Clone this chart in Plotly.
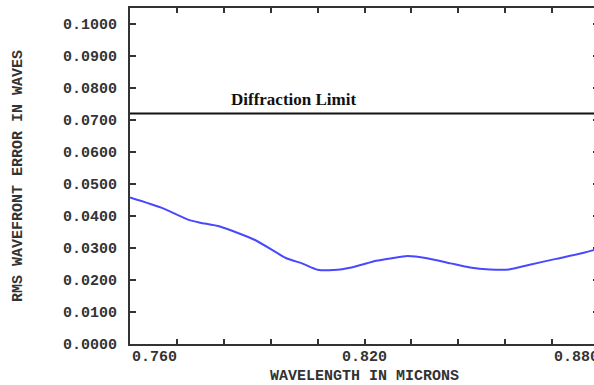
import plotly.graph_objects as go

# ---- data ----
wavelength = [0.760, 0.768, 0.775, 0.778, 0.783, 0.792, 0.800, 0.804, 0.808, 0.812,
              0.817, 0.823, 0.827, 0.831, 0.836, 0.842, 0.847, 0.852, 0.857, 0.862,
              0.869, 0.875, 0.880]
rms_error = [0.0458, 0.0426, 0.0388, 0.0379, 0.0367, 0.0325, 0.0268, 0.0252, 0.0232, 0.0231,
             0.0240, 0.0260, 0.0268, 0.0275, 0.0268, 0.0252, 0.0239, 0.0233, 0.0233, 0.0247,
             0.0266, 0.0282, 0.0298]
diffraction_limit = 0.072
x_tick_labels = ["0.760", "0.820", "0.880"]
x_tick_values = [0.760, 0.820, 0.880]
y_tick_values = [0.00, 0.01, 0.02, 0.03, 0.04, 0.05, 0.06, 0.07, 0.08, 0.09, 0.10]

AX = "#333333"
MONO = "Liberation Mono"

fig = go.Figure()
fig.add_trace(go.Scatter(
    x=wavelength, y=rms_error, mode="lines",
    line=dict(color="#4848ff", width=2, shape="spline", smoothing=0.6),
    showlegend=False, hoverinfo="skip",
))

fig.add_shape(type="line", xref="paper", yref="y", x0=0, x1=1,
              y0=diffraction_limit, y1=diffraction_limit,
              line=dict(color="#111111", width=2))
fig.add_annotation(x=0.7853, y=diffraction_limit, xref="x", yref="y",
                   xanchor="left", yanchor="bottom", yshift=3, showarrow=False,
                   text="<b>Diffraction Limit</b>",
                   font=dict(family="Liberation Serif", size=17, color="#111111"))

# x tick labels placed like the original (first left-aligned, last right-aligned)
anchors = ["left", "center", "right"]
shifts = [0, 0, 2]
for v, t, a, s in zip(x_tick_values, x_tick_labels, anchors, shifts):
    fig.add_annotation(x=v, y=0, xref="x", yref="paper", xanchor=a, yanchor="top",
                       xshift=s, yshift=-3, showarrow=False, text=t,
                       font=dict(family=MONO, size=15, color=AX, weight="bold"))

fig.update_xaxes(
    range=[0.760, 0.880], tick0=0.760, dtick=0.012,
    ticks="inside", ticklen=5, tickwidth=1.5, tickcolor=AX,
    showticklabels=False, showgrid=False, zeroline=False, automargin=False,
    showline=True, linecolor=AX, linewidth=2, mirror="ticks",
    title=dict(text="WAVELENGTH IN MICRONS", standoff=27,
               font=dict(family=MONO, size=15, color=AX, weight="bold")),
)
fig.update_yaxes(
    range=[0, 0.105], tickvals=y_tick_values, tickformat=".4f",
    ticks="inside", ticklen=6, tickwidth=1.5, tickcolor=AX,
    ticklabelstandoff=8, automargin=False,
    tickfont=dict(family=MONO, size=15, color=AX, weight="bold"),
    showgrid=False, zeroline=False,
    showline=True, linecolor=AX, linewidth=2, mirror="ticks",
    title=dict(text="RMS WAVEFRONT ERROR IN WAVES", standoff=37,
               font=dict(family=MONO, size=15, color=AX, weight="bold")),
)

# The original frame runs a few pixels past the right edge of the 594 px view.
fig.update_layout(
    width=599, height=385, autosize=False,
    margin=dict(l=130, r=0, t=8, b=41),
    plot_bgcolor="white", paper_bgcolor="white",
)

fig.write_html(
    "out.html",
    config={"displayModeBar": False},
    post_script="document.body.style.margin='0';document.body.style.overflow='hidden';",
)
